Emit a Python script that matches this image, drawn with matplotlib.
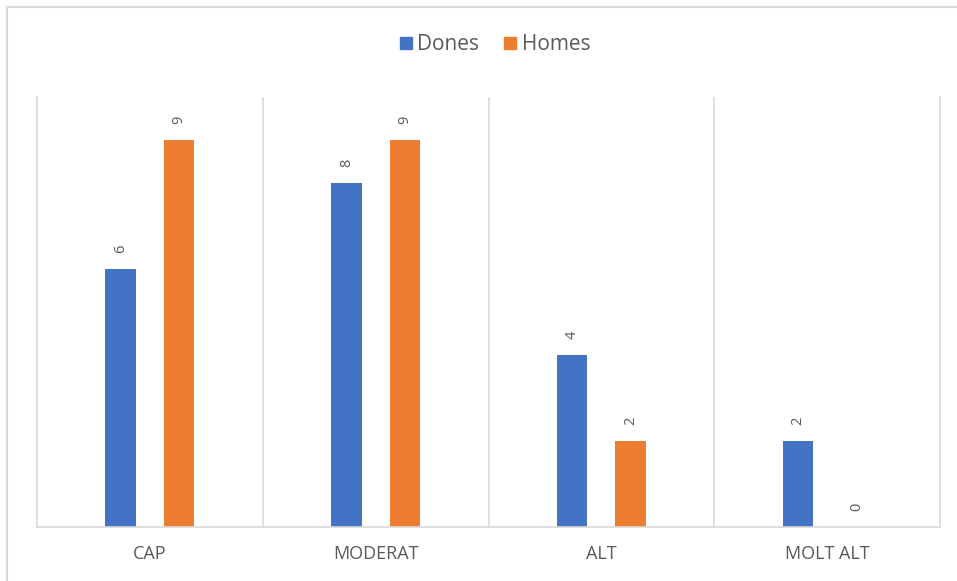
import numpy as np
import matplotlib
matplotlib.use('Agg')
import matplotlib.pyplot as plt
from matplotlib.lines import Line2D

categories = ["CAP", "MODERAT", "ALT", "MOLT ALT"]
dones = [6, 8, 4, 2]
homes = [9, 9, 2, 0]

blue = "#4472C4"
orange = "#ED7D31"
grid_c = "#D9D9D9"
text_c = "#595959"

plt.rcParams['font.family'] = ['Open Sans', 'DejaVu Sans']

fig = plt.figure(figsize=(9.57, 5.81), dpi=100, facecolor='white')
ax = fig.add_axes([37 / 957, 1 - 527 / 581, (940 - 37) / 957, (527 - 97) / 581])

x = np.arange(len(categories))
w = 0.135
off = 0.13
b1 = ax.bar(x - off, dones, w, color=blue)
b2 = ax.bar(x + off, homes, w, color=orange)

# value labels, rotated (read bottom to top) like the original
for bars, vals in [(b1, dones), (b2, homes)]:
    for rect, v in zip(bars, vals):
        ax.text(rect.get_x() + rect.get_width() / 2, v + 0.38, str(v),
                rotation=90, rotation_mode='anchor', ha='left', va='center',
                fontsize=10.5, color=text_c)

ax.set_xlim(-0.5, len(categories) - 0.5)
ax.set_ylim(0, 10)
ax.set_yticks([])
ax.set_xticks(x)
ax.set_xticklabels(categories, fontsize=13, color=text_c)
ax.tick_params(axis='x', length=0, pad=13)

# category separators
for s in np.arange(0.5, len(categories) - 0.5, 1):
    ax.axvline(s, color=grid_c, lw=1.2, zorder=0)

ax.spines['top'].set_visible(False)
for side in ['left', 'right', 'bottom']:
    ax.spines[side].set_color(grid_c)
    ax.spines[side].set_linewidth(1.2)

# chart border (only left and top edges fall inside the image)
fig.add_artist(Line2D([7 / 957, 7 / 957], [0, 1 - 7 / 581], transform=fig.transFigure,
                      color=grid_c, lw=1.5))
fig.add_artist(Line2D([7 / 957, 1], [1 - 7 / 581, 1 - 7 / 581], transform=fig.transFigure,
                      color=grid_c, lw=1.5))

handles = [Line2D([], [], marker='s', ls='', color=blue, markersize=8),
           Line2D([], [], marker='s', ls='', color=orange, markersize=8)]
fig.legend(handles, ["Dones", "Homes"], loc='center', bbox_to_anchor=(0.515, 1 - 45 / 581),
           ncol=2, frameon=False, fontsize=15, labelcolor=text_c,
           handletextpad=0.05, columnspacing=1.0, handlelength=1.0)

plt.savefig("out.png", dpi=100, facecolor='white')
plt.close()
